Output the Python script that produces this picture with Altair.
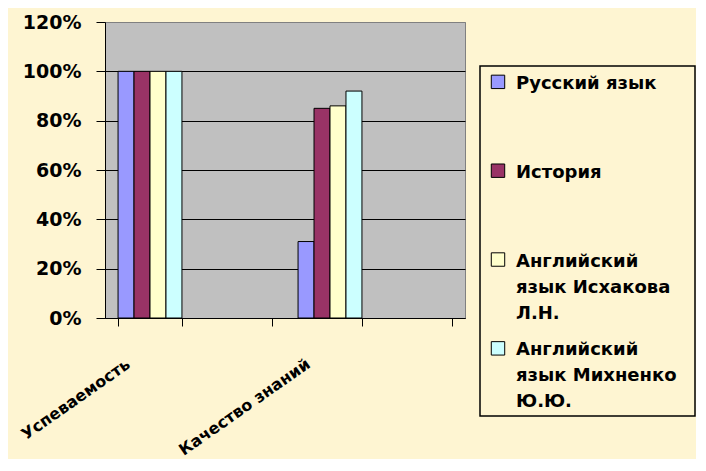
import altair as alt
import pandas as pd

# ---- data ----
categories = ["Успеваемость", " ", "Качество знаний", "  "]
series = [
    "Русский язык",
    "История",
    "Английский язык Исхакова Л.Н.",
    "Английский язык Михненко Ю.Ю.",
]
legend_labels = [
    "Русский язык",
    "История",
    "Английский\nязык Исхакова\nЛ.Н.",
    "Английский\nязык Михненко\nЮ.Ю.",
]
colors = ["#9999FF", "#993366", "#FFFFCC", "#CCFFFF"]
uspevaemost = [1.00, 1.00, 1.00, 1.00]
kachestvo = [0.31, 0.85, 0.86, 0.92]
y_ticks = [0, 0.2, 0.4, 0.6, 0.8, 1.0, 1.2]

rows = []
for s, a, b in zip(series, uspevaemost, kachestvo):
    rows.append({"category": categories[0], "series": s, "value": a})
    rows.append({"category": categories[2], "series": s, "value": b})
df = pd.DataFrame(rows)

leg_df = pd.DataFrame({"series": series, "label": legend_labels})

FONT = "DejaVu Sans"
BG = "#FEF5D2"

color_scale = alt.Scale(domain=series, range=colors)

bars = alt.Chart(df).mark_bar(stroke="black", strokeWidth=1).encode(
    x=alt.X(
        "category:N",
        scale=alt.Scale(domain=categories, paddingInner=0.29, paddingOuter=0.145),
        axis=alt.Axis(
            title=None,
            labelAngle=-35,
            labelAlign="right",
            labelBaseline="middle",
            labelFontSize=16,
            labelFontWeight="bold",
            labelFont=FONT,
            labelColor="black",
            labelOffset=-22,
            labelPadding=36,
            tickBand="extent",
            tickSize=8,
            tickColor="black",
            domainColor="black",
            grid=False,
        ),
    ),
    xOffset=alt.XOffset(
        "series:N", scale=alt.Scale(domain=series, paddingInner=0, paddingOuter=0)
    ),
    y=alt.Y(
        "value:Q",
        scale=alt.Scale(domain=[0, 1.2]),
        axis=alt.Axis(
            title=None,
            values=y_ticks,
            format=".0%",
            labelFontSize=19,
            labelFontWeight="bold",
            labelFont=FONT,
            labelColor="black",
            labelPadding=15,
            tickSize=9,
            tickColor="black",
            domainColor="black",
            grid=True,
            gridColor=alt.condition(
                "datum.value >= 1.2", alt.value("#808080"), alt.value("black")
            ),
            gridOpacity=1,
            gridWidth=1,
        ),
    ),
    color=alt.Color("series:N", scale=color_scale, legend=None),
).properties(
    width=360,
    height=296,
    view=alt.ViewBackground(fill="#C0C0C0", stroke="#808080"),
)

spacer = alt.Chart(pd.DataFrame({"t": [""]})).mark_text().encode(
    text="t:N"
).properties(width=215, height=42, view=alt.ViewBackground(stroke="transparent"))

ly = alt.Y(
    "series:N",
    scale=alt.Scale(type="point", domain=series, padding=0.47, align=0.19),
    axis=None,
)

sym = alt.Chart(leg_df).mark_point(
    shape="square", filled=True, size=180, stroke="black", strokeWidth=1, opacity=1
).encode(
    x=alt.value(18),
    y=ly,
    color=alt.Color("series:N", scale=color_scale, legend=None),
)

txt = alt.Chart(leg_df).mark_text(
    align="left",
    baseline="alphabetic",
    dy=7,
    lineBreak="\n",
    lineHeight=26,
    fontSize=18,
    fontWeight="bold",
    font=FONT,
    color="black",
).encode(x=alt.value(36), y=ly, text="label:N")

legend = alt.layer(sym, txt).properties(
    width=215,
    height=350,
    view=alt.ViewBackground(stroke="black", strokeWidth=1.5),
)

right = alt.vconcat(spacer, legend, spacing=0)

chart = (
    alt.hconcat(bars, right, spacing=13)
    .resolve_scale(y="independent", x="independent")
    .properties(
        background=BG,
        padding={"left": 9, "top": 4, "right": 0, "bottom": 0},
    )
)

chart.save("out.html", embed_options={"renderer": "svg", "actions": False})
